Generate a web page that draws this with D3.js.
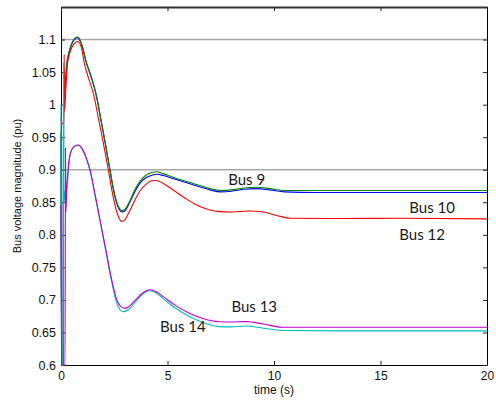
<!DOCTYPE html>
<html>
<head>
<meta charset="utf-8">
<script src="https://cdn.jsdelivr.net/npm/d3@7"></script>
<style>
  html, body { margin: 0; padding: 0; background: #fff; }
  svg { display: block; }
</style>
</head>
<body>
<svg id="chart" width="496" height="405"></svg>
<script>
// Bus voltage magnitude after the disturbance, [time (s), voltage (pu)]
const bus9 = [[0,0.96],[0.03,0.6],[0.1,0.6],[0.12,0.99],[0.2,1.03],[0.27,1.062],[0.37,1.08],[0.47,1.091],[0.6,1.1],[0.78,1.104],[0.95,1.095],[1.2,1.064],[1.45,1.04],[1.67,1.013],[1.87,0.978],[2.07,0.943],[2.3,0.9],[2.5,0.865],[2.7,0.843],[2.87,0.837],[3.0,0.839],[3.2,0.85],[3.45,0.868],[3.7,0.882],[4.0,0.892],[4.3,0.896],[4.5,0.897],[4.8,0.894],[5.3,0.888],[5.9,0.882],[6.5,0.876],[7.0,0.871],[7.5,0.868],[8.0,0.869],[8.6,0.872],[9.2,0.873],[9.8,0.871],[10.5,0.868],[12,0.868],[16,0.868],[20,0.868]];
const bus10 = [[0,0.955],[0.03,0.6],[0.1,0.6],[0.12,0.985],[0.2,1.028],[0.27,1.06],[0.37,1.079],[0.47,1.09],[0.6,1.099],[0.78,1.103],[0.95,1.094],[1.2,1.063],[1.45,1.039],[1.67,1.012],[1.87,0.977],[2.07,0.942],[2.3,0.899],[2.5,0.863],[2.7,0.841],[2.87,0.835],[3.0,0.837],[3.2,0.848],[3.45,0.865],[3.7,0.879],[4.0,0.888],[4.3,0.892],[4.5,0.893],[4.8,0.891],[5.3,0.886],[5.9,0.88],[6.5,0.874],[7.0,0.869],[7.5,0.866],[8.0,0.867],[8.6,0.87],[9.2,0.871],[9.8,0.869],[10.5,0.866],[12,0.865],[16,0.865],[20,0.865]];
const bus12 = [[0,0.98],[0.03,0.97],[0.13,0.975],[0.15,1.077],[0.17,0.99],[0.22,1.02],[0.31,1.064],[0.45,1.083],[0.6,1.093],[0.78,1.097],[0.95,1.089],[1.09,1.064],[1.3,1.04],[1.55,1.013],[1.75,0.98],[1.96,0.946],[2.22,0.9],[2.45,0.858],[2.65,0.832],[2.85,0.8205],[3.0,0.823],[3.2,0.835],[3.45,0.852],[3.7,0.867],[4.0,0.878],[4.25,0.883],[4.45,0.8835],[4.8,0.879],[5.3,0.868],[5.8,0.857],[6.3,0.847],[6.8,0.84],[7.3,0.836],[8.0,0.835],[8.8,0.8365],[9.5,0.835],[10.2,0.829],[10.8,0.8255],[13,0.825],[16,0.8255],[20,0.8245]];
const bus13 = [[0,0.845],[0.02,0.6],[0.19,0.6],[0.21,0.934],[0.23,0.835],[0.27,0.87],[0.42,0.922],[0.6,0.935],[0.81,0.938],[1.0,0.932],[1.2,0.917],[1.36,0.9],[1.6,0.862],[1.85,0.82],[2.1,0.778],[2.38,0.731],[2.6,0.702],[2.8,0.69],[3.0,0.687],[3.2,0.69],[3.5,0.7],[3.85,0.711],[4.18,0.7155],[4.45,0.713],[4.8,0.705],[5.35,0.692],[6.0,0.68],[6.7,0.671],[7.4,0.6665],[8.0,0.666],[8.7,0.6667],[9.5,0.663],[10.4,0.658],[13,0.658],[20,0.658]];
const bus14 = [[0,1.0],[0.03,0.6],[0.1,0.6],[0.12,1.065],[0.14,0.85],[0.2,0.868],[0.27,0.872],[0.42,0.922],[0.6,0.935],[0.81,0.938],[1.0,0.931],[1.2,0.916],[1.36,0.899],[1.6,0.86],[1.85,0.818],[2.1,0.776],[2.38,0.728],[2.6,0.697],[2.8,0.684],[2.95,0.682],[3.2,0.686],[3.5,0.697],[3.85,0.709],[4.18,0.714],[4.45,0.711],[4.8,0.702],[5.35,0.688],[6.0,0.675],[6.7,0.665],[7.4,0.659],[8.0,0.6585],[8.7,0.66],[9.5,0.6565],[10.4,0.653],[13,0.6525],[20,0.6525]];

const xTicks = [0, 5, 10, 15, 20];
const yTicks = [0.6, 0.65, 0.7, 0.75, 0.8, 0.85, 0.9, 0.95, 1, 1.05, 1.1];
const limitLines = [1.1, 0.9];

const seriesList = [
  { name: "Bus 10", data: bus10, color: "#0000ff" },
  { name: "Bus 9",  data: bus9,  color: "#008000" },
  { name: "Bus 12", data: bus12, color: "#ff0000" },
  { name: "Bus 14", data: bus14, color: "#00bfbf" },
  { name: "Bus 13", data: bus13, color: "#c000c8" }
];

// Text labels placed next to their curves: [label, time, voltage]
const curveLabels = [
  ["Bus 9", 7.85, 0.877],
  ["Bus 10", 16.35, 0.834],
  ["Bus 12", 15.88, 0.792],
  ["Bus 13", 8.0, 0.682],
  ["Bus 14", 4.65, 0.651]
];

const svg = d3.select("#chart");
const plotLeft = 61, plotRight = 487, plotTop = 7, plotBottom = 365;

const x = d3.scaleLinear().domain([0, 20]).range([plotLeft, plotRight]);
const y = d3.scaleLinear().domain([0.6, 1.15]).range([plotBottom, plotTop]);

// limit lines
svg.append("g").selectAll("line").data(limitLines).join("line")
  .attr("x1", plotLeft).attr("x2", plotRight)
  .attr("y1", d => y(d)).attr("y2", d => y(d))
  .attr("stroke", "#a8a8a8").attr("stroke-width", 1.5);

const tickFont = "'Liberation Sans', Arial, sans-serif";

// axes with inward ticks
const gx = svg.append("g").attr("transform", `translate(0,${plotBottom})`)
  .call(d3.axisBottom(x).tickValues(xTicks).tickFormat(d3.format("d")).tickSize(-4).tickSizeOuter(0).tickPadding(6));
const gy = svg.append("g").attr("transform", `translate(${plotLeft},0)`)
  .call(d3.axisLeft(y).tickValues(yTicks).tickFormat(d => String(+d.toFixed(2))).tickSize(-4).tickSizeOuter(0).tickPadding(5));
const gt = svg.append("g").attr("transform", `translate(0,${plotTop})`)
  .call(d3.axisTop(x).tickValues(xTicks).tickFormat("").tickSize(-4).tickSizeOuter(0));
const gr = svg.append("g").attr("transform", `translate(${plotRight},0)`)
  .call(d3.axisRight(y).tickValues(yTicks).tickFormat("").tickSize(-4).tickSizeOuter(0));

[gx, gy, gt, gr].forEach(g => {
  g.selectAll("text").attr("font-family", tickFont).attr("font-size", 12.5).attr("fill", "#111");
  g.selectAll("line").attr("stroke", "#222");
  g.select(".domain").attr("stroke", "#000");
});
gx.selectAll("text").attr("font-size", 12);
gt.select(".domain").attr("stroke", "#333").attr("stroke-width", 2);

// curves
const line = d3.line().x(d => x(d[0])).y(d => y(d[1])).curve(d3.curveMonotoneX);
svg.append("g").selectAll("path").data(seriesList).join("path")
  .attr("d", d => line(d.data))
  .attr("fill", "none")
  .attr("stroke", d => d.color)
  .attr("stroke-width", 1.1);

// curve labels
svg.append("g").selectAll("text").data(curveLabels).join("text")
  .attr("x", d => x(d[1])).attr("y", d => y(d[2]))
  .attr("font-family", "Lato, 'Open Sans', sans-serif")
  .attr("font-size", 15)
  .attr("fill", "#1a1a1a")
  .text(d => d[0]);

// axis titles
svg.append("text")
  .attr("x", x(10)).attr("y", 394)
  .attr("text-anchor", "middle")
  .attr("font-family", tickFont).attr("font-size", 12).attr("fill", "#111")
  .text("time (s)");
svg.append("text")
  .attr("transform", `translate(21,${(plotTop + plotBottom) / 2}) rotate(-90)`)
  .attr("text-anchor", "middle")
  .attr("font-family", tickFont).attr("font-size", 11).attr("fill", "#111")
  .text("Bus voltage magnitude (pu)");
</script>
</body>
</html>
